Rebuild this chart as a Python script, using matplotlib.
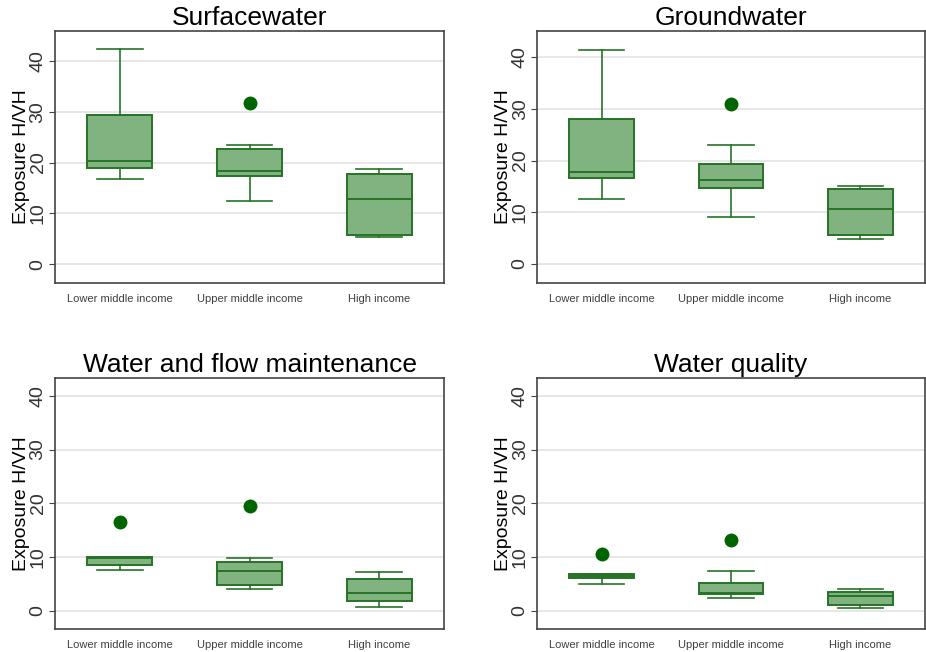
"""
Exposure H/VH by income group, four water-related panels
"""
import numpy as np
import matplotlib
matplotlib.use('Agg')
import matplotlib.pyplot as plt

plt.rcParams['font.family'] = ['Liberation Sans', 'DejaVu Sans']

# income groups on the x axis
groups = ['Lower middle income', 'Upper middle income', 'High income']
titles = ['Surfacewater', 'Groundwater', 'Water and flow maintenance', 'Water quality']

# box statistics per panel, one value per income group
whislo = [[16.7, 12.4, 5.3], [12.6, 9.0, 4.9], [7.5, 4.0, 0.6], [5.0, 2.4, 0.4]]
q1 = [[18.9, 17.3, 5.7], [16.6, 14.6, 5.5], [8.4, 4.8, 1.7], [6.0, 3.0, 1.0]]
med = [[20.4, 18.4, 12.9], [17.8, 16.3, 10.6], [9.7, 7.3, 3.3], [6.5, 3.2, 2.7]]
q3 = [[29.4, 22.7, 17.7], [28.1, 19.4, 14.5], [10.0, 9.1, 5.8], [6.9, 5.2, 3.5]]
whishi = [[42.3, 23.5, 18.7], [41.5, 23.0, 15.0], [10.0, 9.8, 7.1], [6.9, 7.3, 4.0]]
outliers = [[[], [31.8], []], [[], [30.9], []], [[16.5], [19.5], []], [[10.6], [13.2], []]]

ylims = [(-3.7, 45.9), (-3.7, 45.1), (-3.5, 43.4), (-3.5, 43.4)]

# axes rectangles (left, bottom, width, height)
rects = [
    [0.0594, 0.566, 0.4201, 0.3865],
    [0.580, 0.566, 0.419, 0.3865],
    [0.0594, 0.0348, 0.4201, 0.3859],
    [0.580, 0.0348, 0.419, 0.3859],
]

face = '#80b380'
edge = '#267326'
dot = '#006400'

fig = plt.figure(figsize=(9.26, 6.52), dpi=100)

for k in range(4):
    ax = fig.add_axes(rects[k])
    stats = []
    for i in range(3):
        stats.append(dict(whislo=whislo[k][i], q1=q1[k][i], med=med[k][i],
                          q3=q3[k][i], whishi=whishi[k][i], fliers=outliers[k][i]))
    ax.bxp(stats, positions=[1, 2, 3], widths=0.5, capwidths=0.35,
           patch_artist=True, showfliers=True,
           boxprops=dict(facecolor=face, edgecolor=edge, linewidth=1.4),
           medianprops=dict(color=edge, linewidth=1.4),
           whiskerprops=dict(color=edge, linewidth=1.2),
           capprops=dict(color=edge, linewidth=1.2),
           flierprops=dict(marker='o', markerfacecolor=dot, markeredgecolor=dot,
                           markersize=9))
    ax.set_xlim(0.5, 3.5)
    ax.set_ylim(*ylims[k])
    ax.set_yticks([0, 10, 20, 30, 40])
    ax.yaxis.grid(True, color='#e3e3e3', linewidth=1.2)
    ax.set_axisbelow(True)
    ax.set_xticks([1, 2, 3])
    ax.set_xticklabels(groups, fontsize=8, color='#404040')
    ax.tick_params(axis='x', length=0, pad=8)
    ax.tick_params(axis='y', labelsize=14, labelrotation=90, length=4, pad=2,
                   color='#444444', labelcolor='#333333')
    for lab in ax.get_yticklabels():
        lab.set_va('center')
    ax.set_ylabel('Exposure H/VH', fontsize=14, labelpad=0)
    ax.set_title(titles[k], fontsize=19, pad=4)
    for s in ax.spines.values():
        s.set_color('#444444')
        s.set_linewidth(1.2)

fig.savefig('out.png', dpi=100)
